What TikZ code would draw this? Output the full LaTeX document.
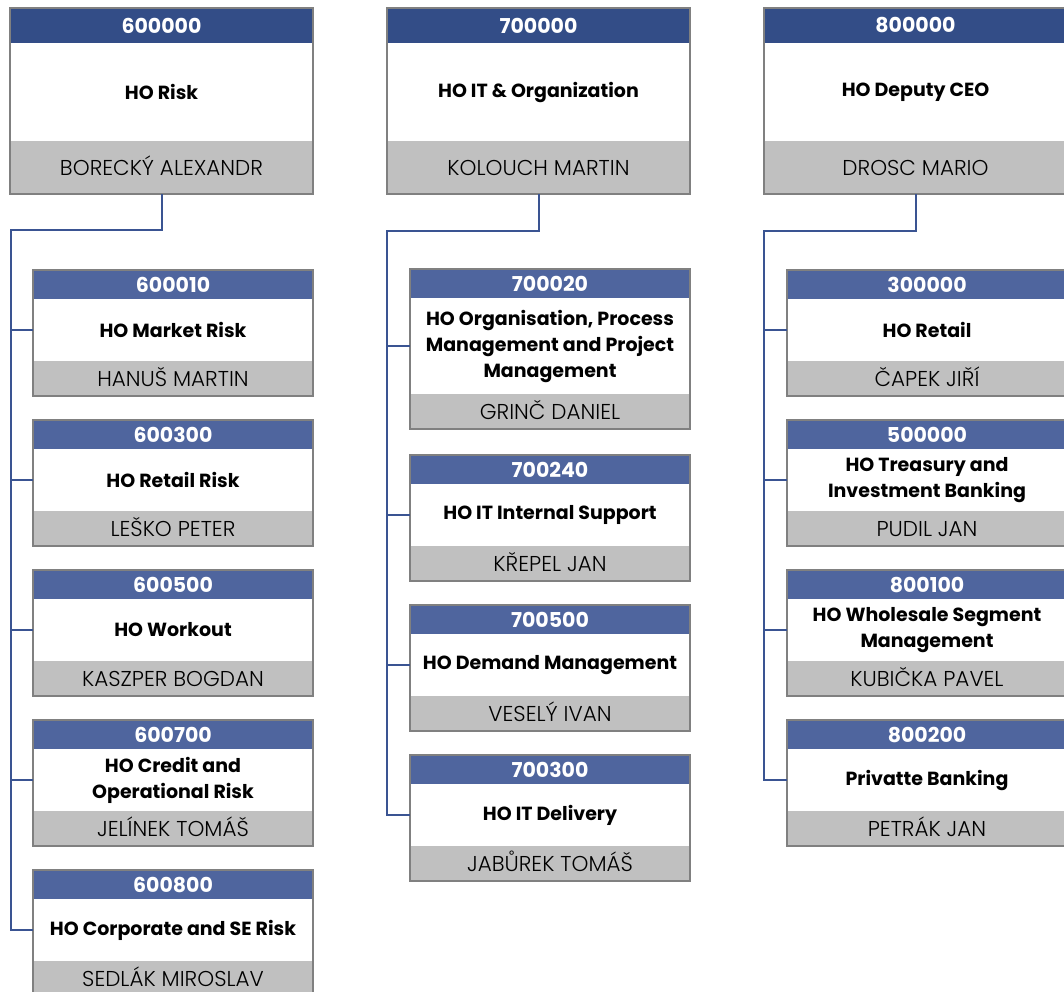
\documentclass[tikz,border=0pt]{standalone}
\usepackage{fontspec}
\setmainfont{Poppins}
\newfontfamily\lightfont{Poppins}[UprightFont=* Light]
\definecolor{topblue}{RGB}{51,77,135}
\definecolor{subblue}{RGB}{79,101,158}
\definecolor{namegray}{RGB}{192,192,192}
\definecolor{edgegray}{RGB}{128,128,128}
\definecolor{linkblue}{RGB}{58,84,146}
\tikzset{
  base/.style={rectangle, inner sep=0pt, outer sep=0pt, align=center},
  hdrtop/.style={base, fill=topblue, text=white, minimum height=35pt, font=\fontsize{20.5}{24}\selectfont\bfseries},
  hdrsub/.style={base, fill=subblue, text=white, minimum height=29pt, font=\fontsize{20.5}{24}\selectfont\bfseries},
  ttl/.style={base, fill=white, text=black, font=\fontsize{19}{26}\selectfont\bfseries},
  nmtop/.style={base, fill=namegray, text=black, minimum height=53pt, text height=15pt, text depth=0pt, font=\fontsize{21.5}{24}\lightfont},
  nmsub/.style={base, fill=namegray, text=black, minimum height=35pt, text height=15pt, text depth=0pt, font=\fontsize{21.5}{24}\lightfont},
  bdr/.style={draw=edgegray, line width=2.2pt},
  conn/.style={draw=linkblue, line width=2pt},
}
\newcommand{\orgbox}[8]{%
  \node[hdr#3, minimum width=#4, anchor=north west] (#1-h) at #2 {#6};
  \node[ttl, minimum width=#4, minimum height=#5, anchor=north] (#1-t) at (#1-h.south) {#7};
  \node[nm#3, minimum width=#4, anchor=north] (#1-n) at (#1-t.south) {#8};
  \draw[bdr] (#1-h.north west) rectangle (#1-n.south east);
}
\begin{document}
\begin{tikzpicture}[x=1pt,y=-1pt]
\useasboundingbox (0,0) rectangle (1064,991);
\clip (0,0) rectangle (1064,991);
% top boxes
\orgbox{A}{(10,8)}{top}{303pt}{98pt}{600000}{HO Risk}{BORECKÝ ALEXANDR}
\orgbox{B}{(387,8)}{top}{303pt}{98pt}{700000}{HO IT \& Organization}{KOLOUCH MARTIN}
\orgbox{C}{(764,8)}{top}{303pt}{98pt}{800000}{HO Deputy CEO}{DROSC MARIO}
% left column
\orgbox{A1}{(33,270)}{sub}{280pt}{62pt}{600010}{HO Market Risk}{HANUŠ MARTIN}
\orgbox{A2}{(33,420)}{sub}{280pt}{62pt}{600300}{HO Retail Risk}{LEŠKO PETER}
\orgbox{A3}{(33,570)}{sub}{280pt}{62pt}{600500}{HO Workout}{KASZPER BOGDAN}
\orgbox{A4}{(33,720)}{sub}{280pt}{62pt}{600700}{HO Credit and\\Operational Risk}{JELÍNEK TOMÁŠ}
\orgbox{A5}{(33,870)}{sub}{280pt}{62pt}{600800}{HO Corporate and SE Risk}{SEDLÁK MIROSLAV}
% middle column
\orgbox{B1}{(410,269)}{sub}{280pt}{96pt}{700020}{HO Organisation, Process\\Management and Project\\Management}{GRINČ DANIEL}
\orgbox{B2}{(410,455)}{sub}{280pt}{62pt}{700240}{HO IT Internal Support}{KŘEPEL JAN}
\orgbox{B3}{(410,605)}{sub}{280pt}{62pt}{700500}{HO Demand Management}{VESELÝ IVAN}
\orgbox{B4}{(410,755)}{sub}{280pt}{62pt}{700300}{HO IT Delivery}{JABŮREK TOMÁŠ}
% right column
\orgbox{C1}{(787,270)}{sub}{280pt}{62pt}{300000}{HO Retail}{ČAPEK JIŘÍ}
\orgbox{C2}{(787,420)}{sub}{280pt}{62pt}{500000}{HO Treasury and\\Investment Banking}{PUDIL JAN}
\orgbox{C3}{(787,570)}{sub}{280pt}{62pt}{800100}{HO Wholesale Segment\\Management}{KUBIČKA PAVEL}
\orgbox{C4}{(787,720)}{sub}{280pt}{62pt}{800200}{Privatte Banking}{PETRÁK JAN}
% connectors
\coordinate (LA) at (11,230);
\coordinate (LB) at (387,231);
\coordinate (LC) at (764,231);
\draw[conn] (A-n.south) |- (LA) |- (A5-t.west);
\foreach \k in {A1,A2,A3,A4} \draw[conn] (LA |- \k-t.west) -- (\k-t.west);
\draw[conn] (B-n.south) |- (LB) |- (B4-t.west);
\foreach \k in {B1,B2,B3} \draw[conn] (LB |- \k-t.west) -- (\k-t.west);
\draw[conn] (C-n.south) |- (LC) |- (C4-t.west);
\foreach \k in {C1,C2,C3} \draw[conn] (LC |- \k-t.west) -- (\k-t.west);
\end{tikzpicture}
\end{document}
